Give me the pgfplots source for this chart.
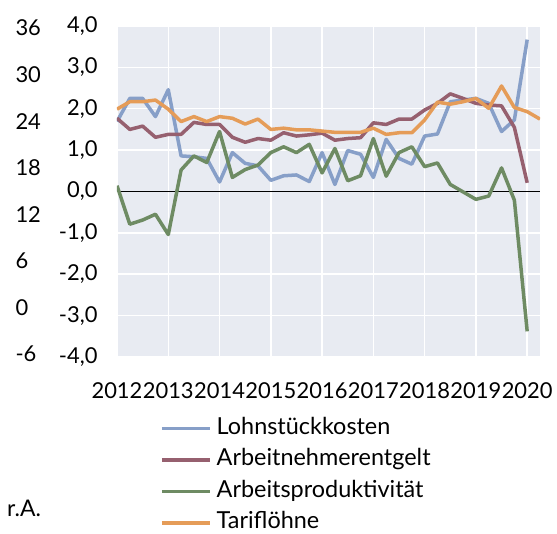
\documentclass[border=0pt]{standalone}
\usepackage{fontspec}
\setmainfont{Lato}
\usepackage{pgfplots}
\pgfplotsset{compat=1.18}
\definecolor{cblue}{HTML}{879FC8}
\definecolor{cmauve}{HTML}{96606F}
\definecolor{cgreen}{HTML}{6E8B63}
\definecolor{corange}{HTML}{E59C58}
\definecolor{bgc}{HTML}{E8EBF2}
\begin{document}
\begin{tikzpicture}[x=1bp,y=1bp]
\path[use as bounding box] (-117,-177) rectangle (440,357);
% outer (r.A.) axis labels
\begin{axis}[at={(0,3bp)}, anchor=south west, scale only axis, width=423bp, height=326bp,
  xmin=0, xmax=33, ymin=-6, ymax=36,
  hide x axis, axis y line*=left, y axis line style={draw=none},
  major tick length=0, ytick={-6,0,...,36},
  yticklabel style={anchor=west, xshift=-105bp, font=\fontsize{22}{22}\selectfont},
  /pgf/number format/assume math mode=true]
\addplot[draw=none] coordinates {(0,0)};
\end{axis}
\begin{axis}[at={(0,0)}, anchor=south west, scale only axis, width=423bp, height=331bp,
  xmin=0, xmax=33, ymin=-4, ymax=4,
  axis background/.style={fill=bgc},
  axis line style={draw=none},
  grid=major, grid style={white, line width=1.5bp},
  xtick={0,4,...,32}, xticklabels={2012,2013,2014,2015,2016,2017,2018,2019,2020},
  ytick={-4,-3,...,4},
  major tick length=0,
  tick label style={font=\fontsize{22}{22}\selectfont},
  xticklabel style={anchor=north, yshift=-22bp},
  yticklabel style={xshift=-16bp, /pgf/number format/.cd, fixed, fixed zerofill, precision=1, use comma},
  /pgf/number format/assume math mode=true,
  legend style={at={(0.1017,-0.168)}, anchor=north west, draw=none, fill=none,
    font=\fontsize{23.5}{23.5}\selectfont, inner sep=0pt, row sep=0pt,
    nodes={text height=16.5bp, text depth=5bp, inner sep=5bp}},
  legend cell align=left,
  legend image code/.code={\draw[#1, line width=3.5bp] (0bp,0bp) -- (48bp,0bp);},
  every axis plot/.append style={line width=3.5bp, line join=round}]
\addplot[black, line width=1.3bp, forget plot] coordinates {(0,0) (33,0)};
\addplot[cblue] coordinates {(0,1.69)(1,2.25)(2,2.25)(3,1.81)(4,2.46)(5,0.86)(6,0.84)(7,0.80)(8,0.23)(9,0.94)(10,0.68)(11,0.62)(12,0.27)(13,0.38)(14,0.40)(15,0.24)(16,0.94)(17,0.17)(18,0.99)(19,0.90)(20,0.34)(21,1.26)(22,0.80)(23,0.66)(24,1.34)(25,1.39)(26,2.17)(27,2.21)(28,2.25)(29,2.13)(30,1.45)(31,1.73)(32,3.67)};
\addlegendentry{Lohnstückkosten}
\addplot[cmauve] coordinates {(0,1.77)(1,1.50)(2,1.58)(3,1.31)(4,1.38)(5,1.38)(6,1.67)(7,1.62)(8,1.62)(9,1.31)(10,1.19)(11,1.28)(12,1.24)(13,1.42)(14,1.34)(15,1.37)(16,1.41)(17,1.24)(18,1.28)(19,1.30)(20,1.66)(21,1.62)(22,1.75)(23,1.75)(24,1.97)(25,2.13)(26,2.36)(27,2.25)(28,2.13)(29,2.09)(30,2.07)(31,1.55)(32,0.21)};
\addlegendentry{Arbeitnehmerentgelt}
\addplot[cgreen] coordinates {(0,0.14)(1,-0.79)(2,-0.69)(3,-0.55)(4,-1.04)(5,0.52)(6,0.86)(7,0.70)(8,1.45)(9,0.34)(10,0.53)(11,0.64)(12,0.94)(13,1.08)(14,0.94)(15,1.14)(16,0.45)(17,1.04)(18,0.26)(19,0.38)(20,1.28)(21,0.37)(22,0.94)(23,1.08)(24,0.60)(25,0.69)(26,0.17)(27,-0.01)(28,-0.19)(29,-0.11)(30,0.57)(31,-0.21)(32,-3.38)};
\addlegendentry{Arbeitsproduktivität}
\addplot[corange] coordinates {(0,1.99)(1,2.17)(2,2.17)(3,2.21)(4,1.99)(5,1.69)(6,1.81)(7,1.69)(8,1.81)(9,1.77)(10,1.63)(11,1.75)(12,1.50)(13,1.53)(14,1.49)(15,1.49)(16,1.46)(17,1.43)(18,1.43)(19,1.43)(20,1.53)(21,1.38)(22,1.42)(23,1.42)(24,1.73)(25,2.16)(26,2.11)(27,2.17)(28,2.25)(29,2.01)(30,2.55)(31,2.03)(32,1.93)(33,1.75)};
\addlegendentry{Tariflöhne}
\end{axis}
\node[anchor=west, inner sep=0pt, font=\fontsize{23}{23}\selectfont] at (-110,-151) {r.A.};
\end{tikzpicture}
\end{document}
